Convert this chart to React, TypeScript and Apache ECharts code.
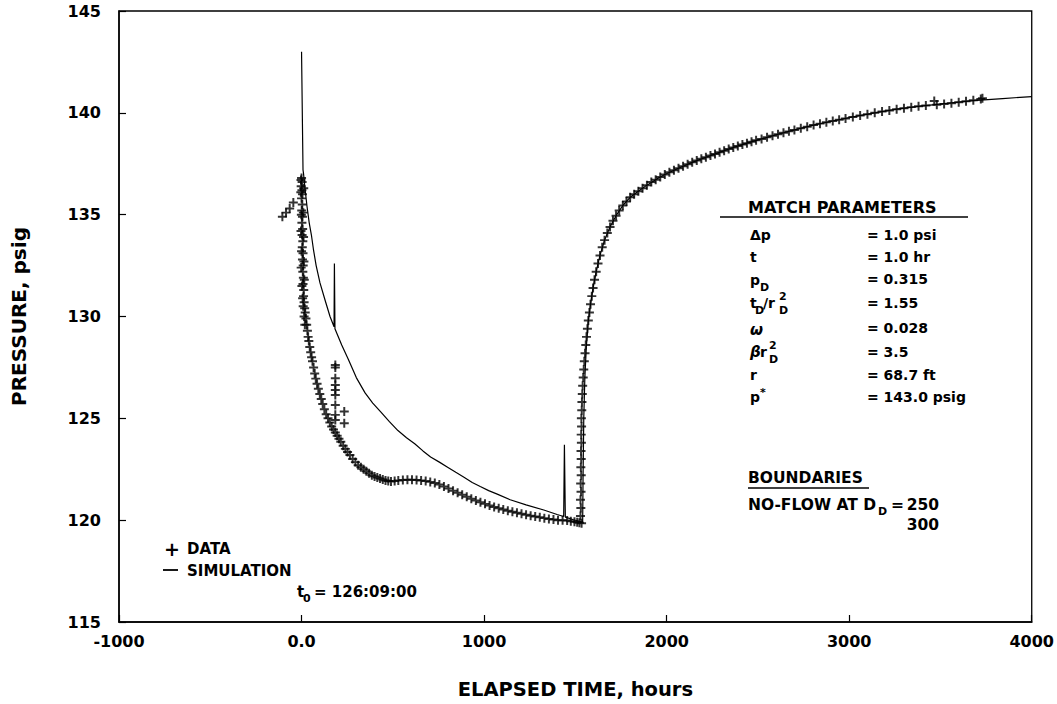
import React, { useEffect, useRef } from "react";
import * as echarts from "echarts";

// ---------- DATA ----------
const xTicks = [-1000, 0, 1000, 2000, 3000, 4000];
const yTicks = [115, 120, 125, 130, 135, 140, 145];

// observed pressure before t0 and the cluster at t0
const preData: number[][] = [
  [-105, 134.9], [-85, 135.1], [-65, 135.3], [-45, 135.6],
  [-3, 136.7], [0, 136.8], [3, 136.6], [-2, 136.4], [2, 136.2], [5, 136.0], [0, 135.8], [4, 135.5],
  [1, 135.2], [5, 134.9], [2, 134.6], [6, 134.3], [3, 134.0], [7, 133.7], [4, 133.4], [8, 133.1],
  [5, 132.8], [9, 132.5], [7, 132.2], [10, 131.9], [8, 131.6], [12, 131.3], [11, 131.0], [14, 130.7],
  [17, 130.4], [-4, 136.1], [-1, 135.0], [-3, 134.2], [0, 133.2], [-2, 132.4], [2, 131.5], [6, 130.9],
  [9, 130.5], [12, 136.3], [10, 135.1], [11, 133.9], [13, 132.7], [15, 131.8], [14, 130.0], [18, 129.6],
];

// drawdown decline
const declineData: number[][] = [
  [20, 130.2], [24, 129.9], [28, 129.6], [32, 129.3], [36, 129.0], [40, 128.8], [45, 128.5], [50, 128.25],
  [55, 128.0], [60, 127.8], [66, 127.5], [72, 127.2], [78, 126.95], [85, 126.7], [92, 126.45], [100, 126.2],
  [108, 125.95], [116, 125.7], [125, 125.45], [135, 125.2], [145, 125.0], [155, 124.8], [165, 124.6],
  [175, 124.45], [185, 124.3], [195, 124.15], [205, 124.0], [215, 123.85], [228, 123.65], [240, 123.5],
  [252, 123.35], [265, 123.2], [280, 123.0], [295, 122.85], [310, 122.7], [325, 122.6], [340, 122.5],
  [355, 122.4], [370, 122.3], [385, 122.2], [400, 122.15], [415, 122.1], [430, 122.05], [445, 122.0],
  [460, 121.95], [475, 121.92], [490, 121.9], [510, 121.92], [530, 121.95], [555, 121.97], [580, 121.98],
  [605, 121.98], [630, 121.97], [655, 121.95], [680, 121.92], [705, 121.88], [730, 121.82], [755, 121.75],
  [780, 121.65], [805, 121.55], [830, 121.45], [855, 121.35], [880, 121.25], [905, 121.15], [930, 121.05],
  [955, 120.97], [980, 120.88], [1005, 120.8], [1030, 120.72], [1055, 120.65], [1080, 120.58], [1105, 120.52],
  [1130, 120.46], [1155, 120.41], [1180, 120.36], [1205, 120.31], [1230, 120.27], [1255, 120.22],
  [1280, 120.18], [1305, 120.14], [1330, 120.1], [1355, 120.06], [1380, 120.03], [1405, 120.0], [1430, 120.0],
  [1455, 119.98], [1475, 119.95], [1495, 119.92], [1510, 119.9], [1522, 119.87], [1534, 119.85],
];

// scattered readings near t = 185 h
const spikeData: number[][] = [
  [185, 127.62], [185, 127.5], [185, 126.97], [185, 126.64], [185, 126.39], [185, 126.15], [185, 125.66],
  [185, 125.17], [185, 124.92], [234, 125.33], [234, 124.76],
];

// pressure build-up
const buildupData: number[][] = [
  [1528, 120.2], [1530, 120.6], [1528, 121.0], [1531, 121.4], [1529, 121.8], [1532, 122.2], [1530, 122.6],
  [1532, 123.0], [1531, 123.4], [1533, 123.8], [1532, 124.2], [1534, 124.6], [1533, 125.0], [1535, 125.4],
  [1536, 125.8], [1538, 126.2], [1540, 126.6], [1543, 127.0], [1546, 127.4], [1549, 127.8], [1553, 128.2],
  [1557, 128.6], [1561, 129.0], [1566, 129.4], [1571, 129.8], [1577, 130.2], [1583, 130.6], [1590, 131.0],
  [1597, 131.4], [1605, 131.8], [1614, 132.2], [1624, 132.6], [1635, 133.0], [1647, 133.4], [1660, 133.75],
  [1675, 134.1], [1690, 134.4], [1706, 134.7], [1723, 134.95], [1740, 135.2], [1760, 135.45], [1780, 135.65],
  [1800, 135.85], [1822, 136.0], [1845, 136.15], [1868, 136.3], [1892, 136.45], [1916, 136.6], [1940, 136.72],
  [1965, 136.85], [1990, 136.97], [2015, 137.08], [2040, 137.18], [2065, 137.28], [2090, 137.38],
  [2115, 137.48], [2140, 137.57], [2165, 137.66], [2190, 137.74], [2215, 137.82], [2240, 137.9],
  [2265, 137.98], [2290, 138.06], [2315, 138.14], [2340, 138.22], [2365, 138.3], [2390, 138.37],
  [2415, 138.44], [2440, 138.51], [2465, 138.58], [2490, 138.65], [2520, 138.72], [2550, 138.8],
  [2580, 138.88], [2610, 138.95], [2640, 139.02], [2670, 139.09], [2700, 139.16], [2735, 139.24],
  [2770, 139.32], [2805, 139.4], [2840, 139.47], [2875, 139.54], [2910, 139.6], [2945, 139.66],
  [2980, 139.72], [3020, 139.8], [3060, 139.87], [3100, 139.93], [3140, 140.0], [3180, 140.06],
  [3220, 140.12], [3260, 140.18], [3300, 140.23], [3340, 140.28], [3380, 140.32], [3420, 140.36],
  [3466, 140.58], [3480, 140.4], [3520, 140.43], [3560, 140.47], [3600, 140.52], [3640, 140.57],
  [3680, 140.62], [3721, 140.68], [3730, 140.72],
];

// simulated pressure
const simulation: number[][] = [
  [0, 143.0], [8, 137.2], [11, 137.0], [20, 136.2], [30, 135.4], [42, 134.6], [54, 134.0], [65, 133.3],
  [80, 132.5], [101, 131.65], [129, 130.8], [156, 130.0], [178, 129.5], [180, 132.6], [183, 129.4],
  [192, 129.2], [220, 128.6], [256, 127.9], [300, 127.0], [348, 126.25], [390, 125.75], [435, 125.3],
  [480, 124.85], [528, 124.4], [575, 124.05], [620, 123.75], [665, 123.4], [707, 123.1], [755, 122.85],
  [800, 122.6], [845, 122.35], [892, 122.1], [935, 121.85], [979, 121.65], [1025, 121.45], [1072, 121.28],
  [1143, 121.0], [1230, 120.75], [1327, 120.5], [1400, 120.28], [1436, 120.18], [1440, 123.7],
  [1445, 120.15], [1490, 120.02], [1530, 119.92], [1540, 119.9], [1542, 122.0], [1546, 125.0],
  [1552, 127.0], [1560, 128.5], [1571, 129.8], [1583, 130.6], [1597, 131.4], [1614, 132.2], [1635, 133.0],
  [1660, 133.75], [1690, 134.4], [1723, 134.95], [1760, 135.45], [1800, 135.85], [1845, 136.15],
  [1892, 136.45], [1940, 136.72], [1990, 136.97], [2065, 137.28], [2140, 137.57], [2215, 137.82],
  [2290, 138.06], [2365, 138.3], [2440, 138.51], [2520, 138.72], [2610, 138.95], [2700, 139.16],
  [2805, 139.4], [2910, 139.6], [3020, 139.8], [3140, 140.0], [3260, 140.18], [3380, 140.32],
  [3520, 140.45], [3680, 140.6], [3840, 140.7], [4000, 140.8],
];

const matchLabels = ["= 1.0 psi", "= 1.0 hr", "= 0.315", "= 1.55", "= 0.028", "= 3.5", "= 68.7 ft", "= 143.0 psig"];

// ---------- STYLE ----------
const FONT = "DejaVu Sans";
const PLUS = "path://M3.9,0 H6.1 V3.9 H10 V6.1 H6.1 V10 H3.9 V6.1 H0 V3.9 H3.9 Z";

function txt(x: number, y: number, text: string, size = 14, extra: any = {}) {
  return {
    type: "text",
    x,
    y,
    silent: true,
    style: {
      text,
      fill: "#000",
      fontFamily: FONT,
      fontWeight: "bold",
      fontSize: size,
      fontStyle: extra.italic ? "italic" : "normal",
      textAlign: extra.align || "left",
      align: extra.align || "left",
      textVerticalAlign: "middle",
      verticalAlign: "middle",
    },
  };
}

export default function App() {
  const ref = useRef<HTMLDivElement>(null);
  useEffect(() => {
    if (!ref.current) return;
    const chart = echarts.init(ref.current, undefined, { renderer: "svg" });
    const rowY = [235, 257, 281, 303, 328, 352, 375, 397];
    const L = 750;
    const R = 867;
    const graphic: any[] = [
      txt(748, 207, "MATCH PARAMETERS", 16),
      { type: "line", shape: { x1: 720, y1: 217, x2: 968, y2: 217 }, style: { stroke: "#000", lineWidth: 1.5 } },
      txt(L, rowY[0], "Δp"),
      txt(L, rowY[1], "t"),
      txt(L, rowY[2] - 1, "p"),
      txt(L + 10, rowY[2] + 6, "D", 11),
      txt(L, rowY[3], "t"),
      txt(L + 5, rowY[3] + 7, "D", 11),
      txt(L + 13, rowY[3], "/r"),
      txt(L + 29, rowY[3] - 7, "2", 11),
      txt(L + 29, rowY[3] + 7, "D", 11),
      txt(L, rowY[4] + 2, "ω", 15, { italic: true }),
      txt(L, rowY[5], "β", 15, { italic: true }),
      txt(L + 10, rowY[5], "r"),
      txt(L + 19, rowY[5] - 7, "2", 11),
      txt(L + 19, rowY[5] + 7, "D", 11),
      txt(L, rowY[6], "r"),
      txt(L, rowY[7], "p"),
      txt(L + 10, rowY[7] - 5, "*", 11),
      ...matchLabels.map((s, i) => txt(R, rowY[i] - (i === 2 ? 2 : 0), s)),
      txt(748, 478, "BOUNDARIES", 15.5),
      { type: "line", shape: { x1: 748, y1: 488, x2: 869, y2: 488 }, style: { stroke: "#000", lineWidth: 1.5 } },
      txt(748, 505, "NO-FLOW AT D", 15.5),
      txt(878, 511, "D", 11),
      txt(891, 505, "=", 15.5),
      txt(939, 505, "250", 15.5, { align: "right" }),
      txt(939, 525, "300", 15.5, { align: "right" }),
      // legend
      txt(164, 549, "+", 19),
      txt(187, 549, "DATA", 15),
      { type: "line", shape: { x1: 163, y1: 570, x2: 178, y2: 570 }, style: { stroke: "#000", lineWidth: 1.8 } },
      txt(187, 571, "SIMULATION", 15),
      txt(297, 592, "t", 15),
      txt(303, 598, "0", 11),
      txt(314, 592, "= 126:09:00", 15),
    ];

    chart.setOption({
      animation: false,
      backgroundColor: "#fff",
      grid: { left: 119, right: 19, top: 11, bottom: 82, show: true, borderColor: "#000", borderWidth: 1.3 },
      xAxis: {
        type: "value",
        min: -1000,
        max: 4000,
        interval: 1000,
        name: "ELAPSED TIME, hours",
        nameLocation: "middle",
        nameGap: 57,
        nameTextStyle: { color: "#000", fontFamily: FONT, fontWeight: "bold", fontSize: 19.5 },
        axisLine: { show: true, onZero: false, lineStyle: { color: "#000", width: 1.5 } },
        axisTick: { show: true, inside: true, length: 7, lineStyle: { color: "#000", width: 1.2 } },
        splitLine: { show: false },
        axisLabel: {
          color: "#000",
          fontFamily: FONT,
          fontWeight: "bold",
          fontSize: 16,
          margin: 11,
          formatter: (v: number) => (v === 0 ? "0.0" : String(v)),
          customValues: xTicks,
        },
      },
      yAxis: {
        type: "value",
        min: 115,
        max: 145,
        interval: 5,
        name: "PRESSURE, psig",
        nameLocation: "middle",
        nameGap: 90,
        nameTextStyle: { color: "#000", fontFamily: FONT, fontWeight: "bold", fontSize: 20 },
        axisLine: { show: true, onZero: false, lineStyle: { color: "#000", width: 1.5 } },
        axisTick: { show: true, inside: true, length: 7, lineStyle: { color: "#000", width: 1.2 } },
        splitLine: { show: false },
        axisLabel: {
          color: "#000",
          fontFamily: FONT,
          fontWeight: "bold",
          fontSize: 16,
          margin: 18,
          customValues: yTicks,
        },
      },
      series: [
        {
          name: "SIMULATION",
          type: "line",
          data: simulation,
          showSymbol: false,
          lineStyle: { color: "#000", width: 1.2 },
          z: 2,
        },
        ...[preData, declineData, spikeData, buildupData].map((d) => ({
          name: "DATA",
          type: "scatter",
          data: d,
          symbol: PLUS,
          symbolSize: 9,
          itemStyle: { color: "#000" },
          z: 3,
        })),
      ],
      graphic,
    });
    return () => chart.dispose();
  }, []);
  return (
    <div
      ref={ref}
      style={{ position: "fixed", left: 0, top: 0, width: 1057, height: 704, background: "#fff" }}
    />
  );
}
